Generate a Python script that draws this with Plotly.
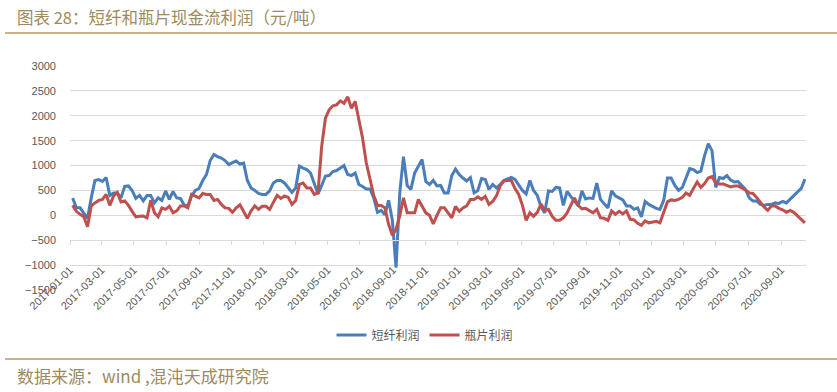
import plotly.graph_objects as go
import pandas as pd

# weekly observation dates (Fridays)
dates = pd.date_range("2017-01-06", periods=198, freq="7D")

# 短纤利润 (元/吨)
staple_fiber = [
    350, 150, 150, 50, -60, 350, 700, 720, 680, 760,
    400, 450, 450, 350, 580, 590, 500, 340, 400, 290,
    400, 400, 250, 350, 300, 490, 320, 480, 350, 340,
    210, 190, 390, 500, 540, 700, 820, 1100, 1220, 1180,
    1150, 1100, 1020, 1060, 1090, 1030, 1050, 700, 550, 500,
    440, 420, 420, 490, 650, 700, 700, 650, 550, 460,
    550, 990, 950, 920, 850, 650, 430, 600, 790, 800,
    880, 900, 950, 1000, 820, 800, 850, 620, 580, 530,
    530, 350, 60, 100, 10, 300, -100, -1050, 450, 1180,
    600, 520, 850, 1000, 1120, 680, 620, 700, 590, 600,
    450, 450, 800, 930, 820, 750, 690, 760, 450, 500,
    740, 720, 520, 620, 550, 620, 700, 730, 760, 720,
    620, 500, 430, 700, 500, 400, 170, 50, 490, 480,
    560, 550, 200, 480, 380, 280, 190, 490, 330, 350,
    340, 650, 320, 230, 150, 490, 390, 350, 310, 190,
    190, 120, 150, -30, 280, 220, 180, 140, 120, 300,
    750, 750, 600, 500, 560, 750, 940, 920, 860, 890,
    1200, 1440, 1300, 560, 760, 740, 800, 710, 670, 680,
    590, 520, 350, 290, 290, 220, 200, 220, 220, 250,
    240, 280, 250, 320, 380, 460, 540, 730,
]

# 瓶片利润 (元/吨)
bottle_chip = [
    200, 80, 20, -30, -230, 190, 250, 300, 320, 420,
    200, 390, 460, 270, 290, 200, 80, -30, -20, -15,
    -50, 300, 50, -30, 150, 120, 180, 50, 90, 190,
    190, 150, 420, 390, 350, 440, 420, 420, 300, 320,
    220, 150, 140, 60, 150, 210, 80, -60, 90, 190,
    120, 180, 180, 120, 260, 400, 340, 390, 360, 220,
    300, 620, 650, 550, 550, 420, 450, 1390, 1950, 2120,
    2200, 2220, 2300, 2250, 2380, 2150, 2290, 1900, 1550, 1050,
    700, 400, 200, 200, 150, -180, -400, -280, -10, 350,
    50, 50, 50, 320, 180, 50, 0, -170, 0, 150,
    150, 50, -50, 180, 80, 150, 190, 320, 320, 370,
    320, 380, 220, 280, 390, 590, 690, 700, 700, 540,
    420, 200, -100, 50, -20, 60, 230, 100, 120, -20,
    -100, -100, -50, 50, 190, 350, 200, 130, 140, 100,
    50, 120, -50, -60, -100, 90, 20, 80, 30, 90,
    -80, -90, -160, -200, -110, -150, -140, -120, -150, 40,
    270, 310, 300, 320, 360, 450, 400, 540, 670, 560,
    640, 750, 780, 650, 630, 630, 600, 570, 590, 590,
    550, 510, 450, 440, 360, 260, 170, 100, 190, 190,
    140, 110, 60, 100, 60, -10, -80, -150,
]

series_names = ["短纤利润", "瓶片利润"]
title_text = "图表 28：短纤和瓶片现金流利润（元/吨）"
source_text = "数据来源：wind ,混沌天成研究院"

BLUE = "#4a7ebb"
RED = "#c0504d"
GRID = "#d9d9d9"
LABEL = "#595959"
GOLD_TXT = "#a08a5c"
GOLD_LINE = "#b8995a"
NUM_FONT = "Liberation Sans, Arial, sans-serif"
CJK_FONT = "Noto Sans CJK SC, sans-serif"

fig = go.Figure()
fig.add_trace(go.Scatter(x=dates, y=staple_fiber, mode="lines", name=series_names[0],
                         line=dict(color=BLUE, width=3)))
fig.add_trace(go.Scatter(x=dates, y=bottle_chip, mode="lines", name=series_names[1],
                         line=dict(color=RED, width=3)))

W, H = 837, 392
L, R, T, B = 70, 31, 66, 102
pw, ph = W - L - R, H - T - B

def px_x(x):
    return (x - L) / pw

def px_y(y):
    return (H - B - y) / ph

fig.update_layout(
    width=W, height=H,
    margin=dict(l=L, r=R, t=T, b=B, pad=0, autoexpand=False),
    paper_bgcolor="white", plot_bgcolor="white",
    showlegend=True,
    legend=dict(orientation="h", x=px_x(425), xanchor="center", y=px_y(335), yanchor="middle",
                font=dict(family=CJK_FONT, size=12, color=LABEL), bgcolor="rgba(0,0,0,0)",
                itemwidth=30),
    xaxis=dict(
        type="date", range=["2017-01-01", "2020-10-18"],
        tick0="2017-01-01", dtick="M2", tickformat="%Y-%m-%d", tickangle=-45,
        showgrid=False, zeroline=False,
        ticks="outside", ticklen=4, tickcolor=GRID, tickwidth=1,
        showline=True, linecolor=GRID, linewidth=1,
        anchor="free", position=1000 / 4500,
        tickfont=dict(family=NUM_FONT, size=11, color=LABEL),
        ticklabelstandoff=14,
        automargin=False,
    ),
    yaxis=dict(
        range=[-1500, 3000], tick0=0, dtick=500,
        showgrid=True, gridcolor=GRID, gridwidth=1.3,
        zeroline=False, showline=False, ticks="",
        tickfont=dict(family=NUM_FONT, size=11, color=LABEL),
        ticklabelstandoff=13,
        automargin=False,
    ),
    annotations=[
        dict(text=title_text, xref="paper", yref="paper", x=px_x(15), y=px_y(17),
             xanchor="left", yanchor="middle", showarrow=False,
             font=dict(family=CJK_FONT, size=16.5, color=GOLD_TXT)),
        dict(text=source_text, xref="paper", yref="paper", x=px_x(15), y=px_y(375),
             xanchor="left", yanchor="middle", showarrow=False,
             font=dict(family=CJK_FONT, size=17, color=GOLD_TXT)),
    ],
    shapes=[
        dict(type="line", xref="paper", yref="paper", x0=px_x(5), x1=px_x(837),
             y0=px_y(33), y1=px_y(33), line=dict(color=GOLD_LINE, width=1.5)),
        dict(type="line", xref="paper", yref="paper", x0=px_x(5), x1=px_x(837),
             y0=px_y(359), y1=px_y(359), line=dict(color=GOLD_LINE, width=1.5)),
    ],
)

fig.write_html("out.html", config={"displayModeBar": False},
               post_script="document.body.style.margin='0';document.body.style.overflow='hidden';")
